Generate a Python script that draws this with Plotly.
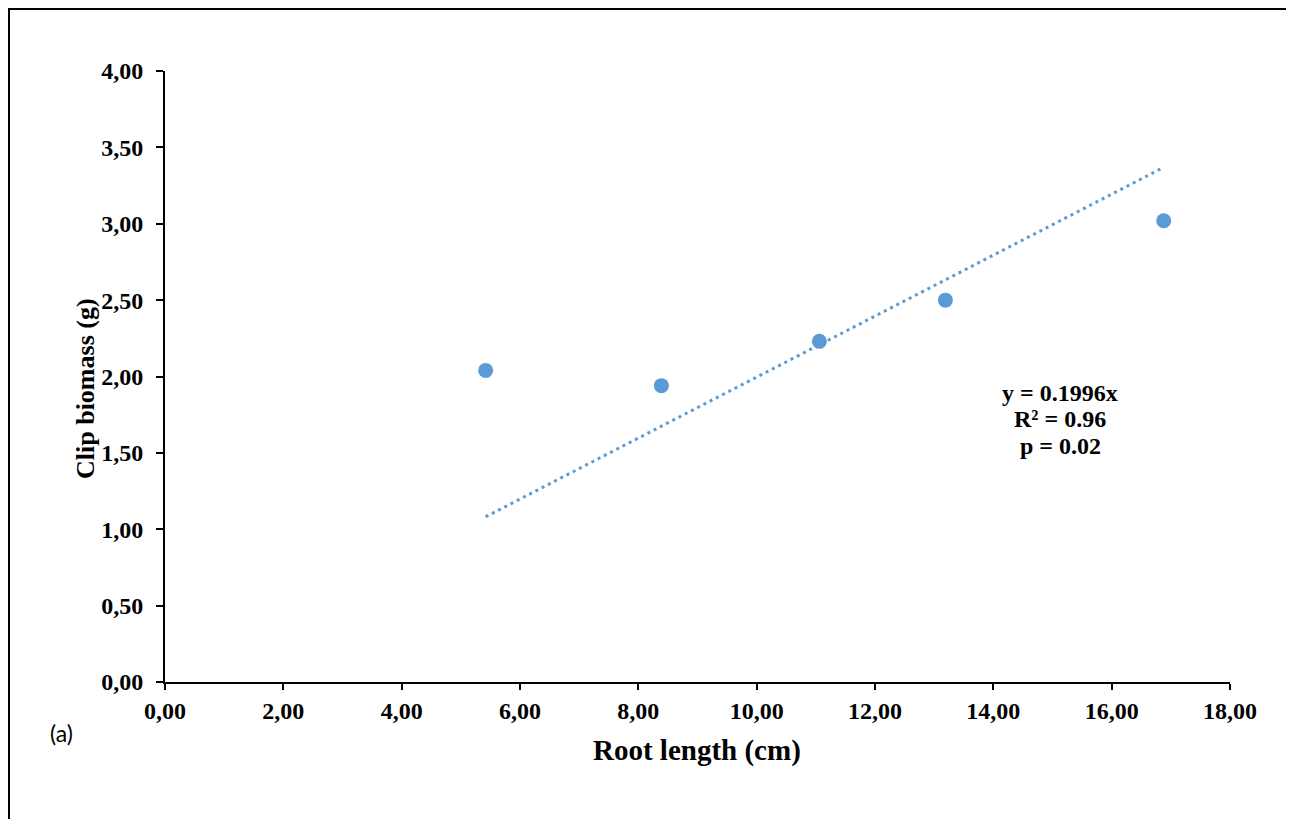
import plotly.graph_objects as go

root_length = [5.42, 8.39, 11.06, 13.19, 16.88]
clip_biomass = [2.04, 1.94, 2.23, 2.50, 3.02]
slope = 0.1996
eq_lines = ["y = 0.1996x", "R² = 0.96", "p = 0.02"]

x_ticks = [0, 2, 4, 6, 8, 10, 12, 14, 16, 18]
x_ticklabels = ["0,00", "2,00", "4,00", "6,00", "8,00", "10,00", "12,00", "14,00", "16,00", "18,00"]
y_ticks = [0, 0.5, 1, 1.5, 2, 2.5, 3, 3.5, 4]
y_ticklabels = ["0,00", "0,50", "1,00", "1,50", "2,00", "2,50", "3,00", "3,50", "4,00"]

blue = "#5B9BD5"
serif = "Liberation Serif, Times New Roman, serif"

x_fit = [min(root_length), max(root_length)]
y_fit = [slope * v for v in x_fit]

fig = go.Figure()
fig.add_trace(go.Scatter(x=x_fit, y=y_fit, mode="lines",
                         line=dict(color=blue, width=3, dash="3px,4px"),
                         hoverinfo="skip", showlegend=False))
fig.add_trace(go.Scatter(x=root_length, y=clip_biomass, mode="markers",
                         marker=dict(color=blue, size=15), showlegend=False))

OFF = 8  # page offset of the figure in the window
W, H = 1294, 819
L, R, T, B = 165 - OFF, 1230 - OFF, 71 - OFF, 682 - OFF
pw, ph = R - L, B - T

def px(xs):
    return (xs - OFF - L) / pw

def py(ys):
    return (B - (ys - OFF)) / ph

annotations = []
for i, (line, ys) in enumerate(zip(eq_lines, [393, 419, 446])):
    annotations.append(dict(x=px(1060), y=py(ys), xref="paper", yref="paper",
                            text="<b>" + line + "</b>", showarrow=False,
                            xanchor="center", yanchor="middle",
                            font=dict(family=serif, size=24, color="black")))
annotations += [
    dict(x=px(85), y=py(389), xref="paper", yref="paper", text="<b>Clip biomass (g)</b>",
         textangle=-90, showarrow=False, xanchor="center", yanchor="middle",
         font=dict(family=serif, size=26, color="black")),
    dict(x=px(697), y=py(750), xref="paper", yref="paper", text="<b>Root length (cm)</b>",
         showarrow=False, xanchor="center", yanchor="middle",
         font=dict(family=serif, size=29, color="black")),
    dict(x=px(61), y=py(733), xref="paper", yref="paper", text="(a)", showarrow=False,
         xanchor="center", yanchor="middle",
         font=dict(family="Lato", size=23, color="black")),
]

tickfont = dict(family=serif, size=24, color="black")

fig.update_layout(
    width=W, height=H,
    margin=dict(l=L, r=W - R, t=T, b=H - B, pad=0),
    paper_bgcolor="white", plot_bgcolor="white",
    font=dict(family=serif, color="black"),
    xaxis=dict(range=[0, 18], tickvals=x_ticks, ticktext=["<b>" + t + "</b>" for t in x_ticklabels],
               showgrid=False, zeroline=False, showline=True, linecolor="black", linewidth=2,
               ticks="outside", ticklen=6, tickwidth=2, tickcolor="black",
               tickfont=tickfont),
    yaxis=dict(range=[0, 4], tickvals=y_ticks, ticktext=["<b>" + t + "</b>" for t in y_ticklabels],
               showgrid=False, zeroline=False, showline=True, linecolor="black", linewidth=2,
               ticks="outside", ticklen=7, tickwidth=2, tickcolor="black",
               ticklabelstandoff=8,
               tickfont=tickfont),
    annotations=annotations,
    shapes=[
        dict(type="rect", xref="paper", yref="paper", x0=px(9), x1=px(1320), y0=py(9), y1=py(850),
             line=dict(color="black", width=2), fillcolor="rgba(0,0,0,0)", layer="below"),
    ],
)

fig.write_html("out.html")
